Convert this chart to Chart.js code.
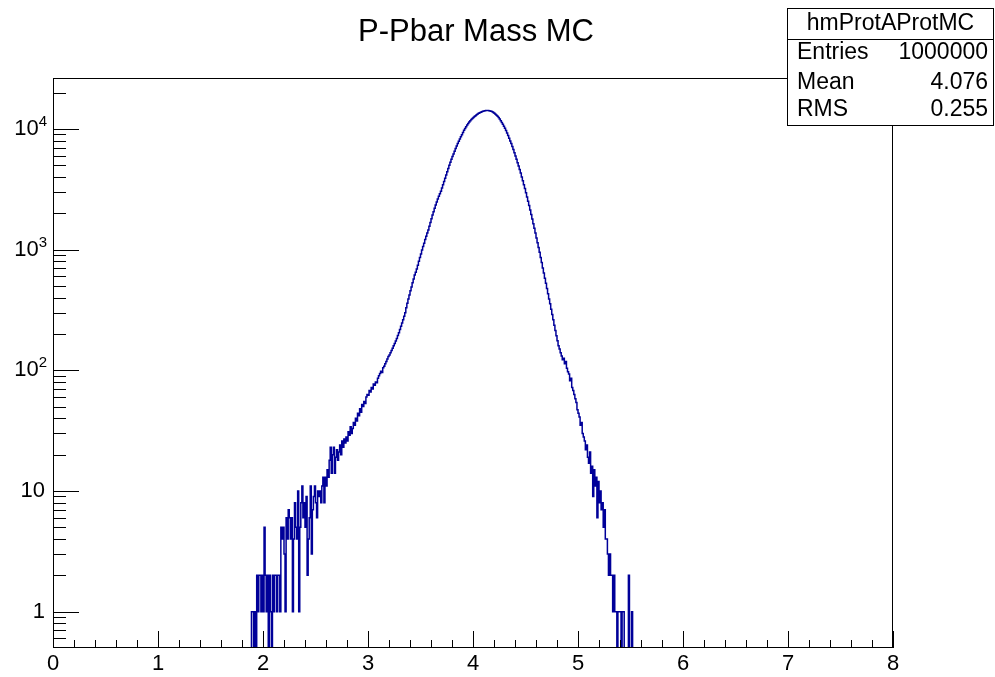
<!DOCTYPE html>
<html>
<head>
<meta charset="utf-8">
<title>P-Pbar Mass MC</title>
<script src="https://cdn.jsdelivr.net/npm/chart.js@4.4.1/dist/chart.umd.min.js"></script>
<style>
  html, body { margin: 0; padding: 0; background: #fff; }
  #wrap { width: 995px; height: 677px; }
</style>
</head>
<body>
<div id="wrap"><canvas id="massChart" width="995" height="677"></canvas></div>
<script>
// histogram hmProtAProtMC, bins of 0.01 starting at 1.80 (low edge)
const binLow = 1.80;
const binWidth = 0.01;
const counts = [
  0, 0, 0, 0, 0, 0, 0, 0, 0, 1,                                   // 1.80
  1, 0, 1, 0, 2, 1, 2, 2, 1, 2,                                   // 1.90
  1, 5, 2, 1, 2, 0, 2, 1, 0, 2,                                   // 2.00
  1, 2, 2, 1, 2, 2, 1, 5, 4, 5,                                   // 2.10
  3, 1, 6, 4, 7, 6, 4, 6, 1, 4,                                   // 2.20
  8, 5, 4, 10, 1, 5, 8, 11, 6, 8,                                 // 2.30
  5, 9, 2, 4, 6, 11, 3, 7, 9, 11,                                 // 2.40
  8, 6, 10, 9, 10, 8, 11, 13, 8, 13,                              // 2.50
  11, 15, 13, 18, 23, 14, 20, 23, 14, 19,                         // 2.60
  22, 18, 21, 24, 20, 26, 23, 27, 25, 28,                         // 2.70
  26, 31, 29, 34, 30, 33, 37, 35, 40, 38,                         // 2.80
  44, 42, 48, 45, 52, 50, 55, 53, 60, 63,                         // 2.90
  62, 68, 66, 72, 70, 77, 75, 80, 79, 86,                         // 3.00
  90, 94, 98, 96, 105, 108, 113, 118, 124, 130,                   // 3.10
  134, 140, 146, 152, 160, 167, 175, 183, 194, 205,               // 3.20
  218, 232, 246, 262, 280, 300, 330, 360, 390, 420,               // 3.30
  455, 490, 530, 570, 615, 650, 690, 740, 800, 860,               // 3.40
  920, 990, 1060, 1130, 1210, 1290, 1370, 1450, 1560, 1680,       // 3.50
  1800, 1930, 2060, 2200, 2340, 2480, 2620, 2760, 2900, 3040,     // 3.60
  3240, 3440, 3660, 3900, 4150, 4420, 4700, 5000, 5300, 5600,     // 3.70
  5900, 6200, 6540, 6880, 7220, 7560, 7900, 8250, 8600, 8950,     // 3.80
  9350, 9720, 10080, 10430, 10760, 11080, 11390, 11680, 11950, 12200, // 3.90
  12430, 12650, 12870, 13080, 13280, 13460, 13620, 13760, 13880, 13980, // 4.00
  14060, 14130, 14180, 14210, 14200, 14160, 14080, 13980, 13850, 13680, // 4.10
  13480, 13250, 12990, 12700, 12400, 12050, 11700, 11300, 10900, 10500, // 4.20
  10100, 9700, 9250, 8800, 8350, 7950, 7550, 7150, 6750, 6350,   // 4.30
  5950, 5600, 5250, 4920, 4600, 4300, 4000, 3720, 3450, 3200,     // 4.40
  2960, 2730, 2520, 2320, 2130, 1950, 1790, 1640, 1500, 1370,     // 4.50
  1250, 1140, 1040, 950, 860, 780, 705, 640, 580, 525,            // 4.60
  475, 430, 390, 355, 320, 290, 262, 236, 214, 193,               // 4.70
  176, 160, 150, 140, 131, 122, 126, 113, 118, 104,               // 4.80
  97, 93, 82, 86, 72, 68, 63, 58, 54, 47,                         // 4.90
  44, 41, 35, 37, 30, 28, 26, 22, 24, 19,                         // 5.00
  17, 21, 14, 16, 9, 15, 11, 13, 6, 12,                           // 5.10
  8, 10, 7, 8, 5, 7, 4, 4, 3, 2,                                  // 5.20
  3, 2, 2, 1, 2, 1, 1, 0, 1, 1,                                   // 5.30
  1, 0, 1, 1, 0, 0, 0, 0, 2, 0,                                   // 5.40
  0, 1, 0, 0                                                      // 5.50
];

const xRange = [0, 8];
const yRange = [0.5, 26400];
const xMajorTicks = [0, 1, 2, 3, 4, 5, 6, 7, 8];
const yMajorTicks = [1, 10, 100, 1000, 10000];
const yTickBase = ['1', '10', '10', '10', '10'];
const yTickExp = ['', '', '2', '3', '4'];

const titleText = 'P-Pbar Mass MC';
const statsTitle = 'hmProtAProtMC';
const statsNames = ['Entries', 'Mean', 'RMS'];
const statsValues = ['1000000', '4.076', '0.255'];

const FONT = '"Liberation Sans", Arial, Helvetica, sans-serif';

// empty bins sit on the bottom of the log axis, as ROOT draws them
const histPoints = counts.map((c, i) => ({
  x: binLow + binWidth * (i + 0.5),
  y: c > 0 ? c : yRange[0]
}));

// ROOT-like frame: ticks inside, labels, title and stats box
const rootFrame = {
  id: 'rootFrame',
  afterDatasetsDraw(chart) {
    const { ctx, chartArea: a, scales } = chart;
    const xs = scales.x, ys = scales.y;
    ctx.save();
    ctx.strokeStyle = '#000';
    ctx.lineWidth = 1;
    ctx.strokeRect(a.left + 0.5, a.top + 0.5, a.right - a.left - 1, a.bottom - a.top - 1);

    // x ticks
    ctx.beginPath();
    for (let i = 0; i <= 40; i++) {
      const v = xRange[0] + i * 0.2;
      const px = Math.round(xs.getPixelForValue(v)) + 0.5;
      const len = i % 5 === 0 ? 17 : 8;
      ctx.moveTo(px, a.bottom);
      ctx.lineTo(px, a.bottom - len);
    }
    // y ticks
    for (let d = 0.1; d < yRange[1]; d *= 10) {
      for (let m = 1; m <= 9; m++) {
        const v = m * d;
        if (v <= yRange[0] * 1.01 || v > yRange[1]) continue;
        const py = Math.round(ys.getPixelForValue(v)) + 0.5;
        const len = m === 1 ? 26 : 13;
        ctx.moveTo(a.left, py);
        ctx.lineTo(a.left + len, py);
      }
    }
    ctx.stroke();

    // x labels
    ctx.fillStyle = '#000';
    ctx.font = '22px ' + FONT;
    ctx.textAlign = 'center';
    ctx.textBaseline = 'middle';
    xMajorTicks.forEach(v => {
      ctx.fillText(String(v), xs.getPixelForValue(v), a.bottom + 16);
    });

    // y labels with superscript exponents
    yMajorTicks.forEach((v, i) => {
      const py = ys.getPixelForValue(v);
      ctx.textBaseline = 'middle';
      if (yTickExp[i]) {
        ctx.font = '15px ' + FONT;
        ctx.textAlign = 'left';
        const ew = ctx.measureText(yTickExp[i]).width;
        ctx.fillText(yTickExp[i], 47 - ew, py - 7);
        ctx.font = '22px ' + FONT;
        ctx.textAlign = 'right';
        ctx.fillText(yTickBase[i], 47 - ew, py);
      } else {
        ctx.font = '22px ' + FONT;
        ctx.textAlign = 'right';
        ctx.fillText(yTickBase[i], 45, py);
      }
    });

    // title
    ctx.font = '31px ' + FONT;
    ctx.textAlign = 'center';
    ctx.fillText(titleText, 476, 32);

    // stats box
    const bx = 787.5, by = 8.5, bw = 206, bh = 117;
    ctx.fillStyle = '#fff';
    ctx.fillRect(bx, by, bw, bh);
    ctx.strokeRect(bx, by, bw, bh);
    ctx.beginPath();
    ctx.moveTo(bx, 39.5);
    ctx.lineTo(bx + bw, 39.5);
    ctx.stroke();
    ctx.fillStyle = '#000';
    ctx.font = '23px ' + FONT;
    ctx.textAlign = 'center';
    ctx.fillText(statsTitle, bx + bw / 2, 24);
    const rowY = [53, 83, 110];
    statsNames.forEach((n, i) => {
      ctx.textAlign = 'left';
      ctx.fillText(n, 797, rowY[i]);
      ctx.textAlign = 'right';
      ctx.fillText(statsValues[i], 988, rowY[i]);
    });
    ctx.restore();
  }
};

new Chart(document.getElementById('massChart').getContext('2d'), {
  type: 'line',
  data: {
    datasets: [{
      label: statsTitle,
      data: histPoints,
      borderColor: '#000099',
      borderWidth: 1.5,
      stepped: 'middle',
      pointRadius: 0,
      fill: false
    }]
  },
  options: {
    responsive: false,
    animation: false,
    devicePixelRatio: 1,
    layout: { padding: { left: 53, top: 78, right: 102, bottom: 29 } },
    plugins: {
      legend: { display: false },
      tooltip: { enabled: false },
      title: { display: false }
    },
    scales: {
      x: { type: 'linear', min: xRange[0], max: xRange[1], display: false },
      y: { type: 'logarithmic', min: yRange[0], max: yRange[1], display: false }
    }
  },
  plugins: [rootFrame]
});
</script>
</body>
</html>
